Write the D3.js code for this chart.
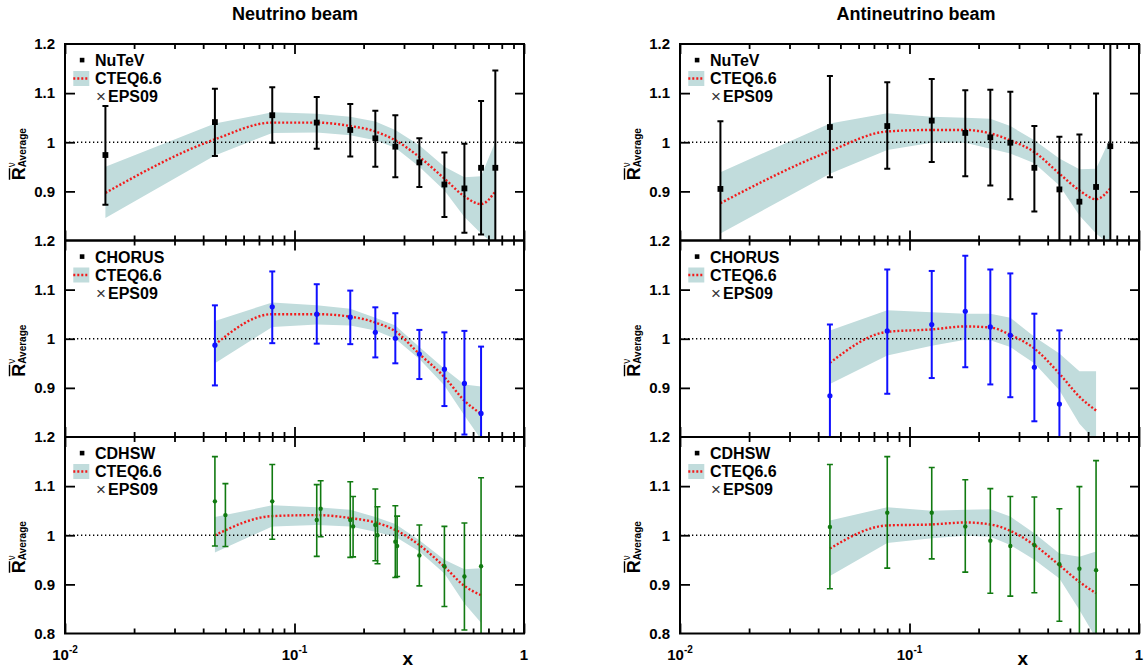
<!DOCTYPE html>
<html><head><meta charset="utf-8">
<script src="https://cdn.jsdelivr.net/npm/d3@7"></script>
<style>body{margin:0;background:#fff}</style>
</head><body><svg id="c" width="1146" height="668"></svg>
<script>
// ---------------- DATA ----------------
const columnTitles = ["Neutrino beam", "Antineutrino beam"];
const experiments = ["NuTeV", "CHORUS", "CDHSW"];
const xMajorTicks = [0.01, 0.1, 1];
const xMajorBase = ["10", "10", "1"];
const xMajorExp = ["-2", "-1", ""];
const xMinorTicks = [0.02,0.03,0.04,0.05,0.06,0.07,0.08,0.09,0.2,0.3,0.4,0.5,0.6,0.7,0.8,0.9];
const yTicks = [0.9, 1.0, 1.1];

// NuTeV binning
const xNuTeV = [0.015,0.045,0.080,0.125,0.175,0.225,0.275,0.35,0.45,0.55,0.65,0.75];

// Neutrino - NuTeV
const nuNuTeV_y  = [0.974,1.041,1.055,1.040,1.025,1.008,0.991,0.959,0.914,0.906,0.948,0.948];
const nuNuTeV_hi = [1.074,1.109,1.112,1.092,1.078,1.064,1.055,1.008,0.979,0.997,1.084,1.146];
const nuNuTeV_lo = [0.873,0.972,0.999,0.987,0.971,0.950,0.929,0.909,0.848,0.816,0.812,0.780];
const nuNuTeV_cteq   = [0.897,1.006,1.040,1.040,1.033,1.022,1.004,0.970,0.926,0.890,0.874,0.900];
const nuNuTeV_bandHi = [0.950,1.038,1.061,1.058,1.052,1.042,1.025,0.994,0.950,0.929,0.931,1.001];
const nuNuTeV_bandLo = [0.846,0.973,1.019,1.020,1.014,1.004,0.989,0.950,0.902,0.848,0.814,0.790];

// Neutrino - CHORUS
const xCHORUS = [0.045,0.080,0.125,0.175,0.225,0.275,0.35,0.45,0.55,0.65];
const nuCHORUS_y  = [0.987,1.065,1.050,1.044,1.013,1.001,0.969,0.938,0.909,0.848];
const nuCHORUS_hi = [1.068,1.137,1.111,1.098,1.064,1.052,1.018,1.013,1.016,0.984];
const nuCHORUS_lo = [0.905,0.991,0.990,0.989,0.962,0.950,0.918,0.863,0.805,0.780];
const xBand10 = [0.045,0.080,0.125,0.175,0.225,0.275,0.35,0.45,0.55,0.65];
const nuCHORUS_cteq   = [0.988,1.050,1.050,1.045,1.033,1.015,0.969,0.922,0.874,0.847];
const nuCHORUS_bandHi = [1.036,1.074,1.068,1.061,1.043,1.027,0.983,0.939,0.907,0.903];
const nuCHORUS_bandLo = [0.950,1.024,1.029,1.027,1.017,1.000,0.959,0.905,0.844,0.795];

// Neutrino - CDHSW
const xCDHSWnu = [0.045,0.050,0.080,0.125,0.130,0.175,0.180,0.225,0.230,0.275,0.280,0.35,0.45,0.55,0.65];
const nuCDHSW_y  = [1.069,1.041,1.069,1.031,1.054,1.031,1.018,1.021,1.000,0.987,0.978,0.959,0.937,0.916,0.937];
const nuCDHSW_hi = [1.160,1.105,1.144,1.103,1.111,1.109,1.079,1.094,1.058,1.060,1.039,1.021,1.018,1.025,1.117];
const nuCDHSW_lo = [0.978,0.977,0.992,0.957,0.997,0.955,0.956,0.948,0.942,0.914,0.916,0.897,0.855,0.807,0.780];
const nuCDHSW_cteq   = [1.000,1.039,1.041,1.035,1.026,1.011,0.980,0.936,0.897,0.878];
const nuCDHSW_bandHi = [1.037,1.061,1.057,1.052,1.037,1.023,0.990,0.950,0.931,0.933];
const nuCDHSW_bandLo = [0.965,1.018,1.021,1.018,1.007,0.997,0.967,0.922,0.861,0.822];

// Antineutrino - NuTeV
const anuNuTeV_y  = [0.905,1.031,1.033,1.044,1.019,1.010,0.999,0.948,0.904,0.879,0.909,0.992];
const anuNuTeV_hi = [1.043,1.135,1.122,1.129,1.106,1.107,1.103,1.033,1.011,1.016,1.099,1.250];
const anuNuTeV_lo = [0.780,0.929,0.946,0.960,0.931,0.912,0.884,0.859,0.780,0.780,0.780,0.780];
const anuNuTeV_cteq   = [0.876,0.982,1.022,1.025,1.025,1.018,1.004,0.980,0.936,0.902,0.884,0.906];
const anuNuTeV_bandHi = [0.939,1.038,1.059,1.052,1.050,1.048,1.033,1.004,0.967,0.945,0.946,1.008];
const anuNuTeV_bandLo = [0.814,0.936,0.984,0.999,0.999,0.987,0.977,0.957,0.912,0.851,0.814,0.790];

// Antineutrino - CHORUS
const xCHORUSanu = [0.045,0.080,0.125,0.175,0.225,0.275,0.35,0.45];
const anuCHORUS_y  = [0.884,1.016,1.029,1.056,1.024,1.007,0.942,0.867];
const anuCHORUS_hi = [1.029,1.141,1.138,1.169,1.141,1.133,1.051,1.017];
const anuCHORUS_lo = [0.780,0.888,0.920,0.942,0.907,0.881,0.832,0.780];
const anuCHORUS_cteq   = [0.951,1.014,1.019,1.025,1.023,1.008,0.980,0.929,0.882,0.854];
const anuCHORUS_bandHi = [1.017,1.058,1.054,1.051,1.051,1.043,1.004,0.970,0.934,0.934];
const anuCHORUS_bandLo = [0.908,0.966,0.986,0.998,0.997,0.983,0.950,0.895,0.827,0.790];

// Antineutrino - CDHSW
const xCDHSWanu = [0.045,0.080,0.125,0.175,0.225,0.275,0.35,0.45,0.55,0.65];
const anuCDHSW_y  = [1.017,1.046,1.046,1.018,0.989,0.978,0.980,0.941,0.932,0.929];
const anuCDHSW_hi = [1.144,1.160,1.138,1.113,1.095,1.079,1.078,1.054,1.099,1.152];
const anuCDHSW_lo = [0.891,0.933,0.952,0.925,0.882,0.876,0.883,0.825,0.780,0.780];
const anuCDHSW_cteq   = [0.973,1.020,1.022,1.026,1.022,1.009,0.980,0.939,0.905,0.882];
const anuCDHSW_bandHi = [1.030,1.057,1.050,1.052,1.053,1.038,1.004,0.963,0.956,0.967];
const anuCDHSW_bandLo = [0.917,0.984,0.994,0.999,0.997,0.980,0.950,0.912,0.848,0.790];

// ---------------- PANEL TABLE (built from arrays) ----------------
const panels = [
  {col:0,row:0,x:xNuTeV,y:nuNuTeV_y,hi:nuNuTeV_hi,lo:nuNuTeV_lo,bx:xNuTeV,c:nuNuTeV_cteq,bh:nuNuTeV_bandHi,bl:nuNuTeV_bandLo},
  {col:0,row:1,x:xCHORUS,y:nuCHORUS_y,hi:nuCHORUS_hi,lo:nuCHORUS_lo,bx:xBand10,c:nuCHORUS_cteq,bh:nuCHORUS_bandHi,bl:nuCHORUS_bandLo},
  {col:0,row:2,x:xCDHSWnu,y:nuCDHSW_y,hi:nuCDHSW_hi,lo:nuCDHSW_lo,bx:xBand10,c:nuCDHSW_cteq,bh:nuCDHSW_bandHi,bl:nuCDHSW_bandLo},
  {col:1,row:0,x:xNuTeV,y:anuNuTeV_y,hi:anuNuTeV_hi,lo:anuNuTeV_lo,bx:xNuTeV,c:anuNuTeV_cteq,bh:anuNuTeV_bandHi,bl:anuNuTeV_bandLo},
  {col:1,row:1,x:xCHORUSanu,y:anuCHORUS_y,hi:anuCHORUS_hi,lo:anuCHORUS_lo,bx:xBand10,c:anuCHORUS_cteq,bh:anuCHORUS_bandHi,bl:anuCHORUS_bandLo},
  {col:1,row:2,x:xCDHSWanu,y:anuCDHSW_y,hi:anuCDHSW_hi,lo:anuCDHSW_lo,bx:xCDHSWanu,c:anuCDHSW_cteq,bh:anuCDHSW_bandHi,bl:anuCDHSW_bandLo}
];

// ---------------- LAYOUT / STYLE ----------------
const FONT = "'Liberation Sans', Arial, Helvetica, sans-serif";
const colX0 = [65, 680], colW = 459;
const pTop = [44, 240.5, 437], pH = 196.5;
const bandColor = "#c1dcdc";
const redColor = "#f21b1b";
const markerColor = ["#000000", "#1010ff", "#117a11"];

const svg = d3.select("#c");
svg.append("rect").attr("width",1146).attr("height",668).attr("fill","#fff");
const defs = svg.append("defs");

// titles
columnTitles.forEach((t,i)=>{
  svg.append("text").attr("x", i===0?295:916).attr("y",20)
    .attr("text-anchor","middle").attr("font-family",FONT).attr("font-weight","bold")
    .attr("font-size",18).text(t);
});

panels.forEach((p,pi)=>{
  const x0 = colX0[p.col], top = pTop[p.row];
  const xs = d3.scaleLog().domain([0.01,1]).range([x0, x0+colW]);
  const ys = d3.scaleLinear().domain([0.8,1.2]).range([top+pH, top]);
  const g = svg.append("g");
  const cid = "clip"+pi;
  defs.append("clipPath").attr("id",cid).append("rect")
    .attr("x",x0).attr("y",top).attr("width",colW).attr("height",pH);
  const gc = g.append("g").attr("clip-path",`url(#${cid})`);

  // band
  const bandData = p.bx.map((xv,i)=>({x:xv,c:p.c[i],h:p.bh[i],l:p.bl[i]}));
  gc.append("path").datum(bandData)
    .attr("d", d3.area().x(d=>xs(d.x)).y0(d=>ys(d.l)).y1(d=>ys(d.h)))
    .attr("fill", bandColor);

  // unity dotted line
  gc.append("line").attr("x1",x0).attr("x2",x0+colW).attr("y1",ys(1)).attr("y2",ys(1))
    .attr("stroke","#000").attr("stroke-width",1.3).attr("stroke-dasharray","1.3,2.7");

  // central CTEQ line
  gc.append("path").datum(bandData)
    .attr("d", d3.line().x(d=>xs(d.x)).y(d=>ys(d.c)).curve(d3.curveMonotoneX))
    .attr("fill","none").attr("stroke",redColor).attr("stroke-width",2.4)
    .attr("stroke-dasharray","2,2");

  // data
  const col = markerColor[p.row];
  const pts = p.x.map((xv,i)=>({x:xv,y:p.y[i],hi:p.hi[i],lo:p.lo[i]}));
  const ew = p.row===2 ? 1.6 : 2;
  const eg = gc.append("g").attr("stroke",col).attr("stroke-width",ew);
  eg.selectAll("line.v").data(pts).join("line")
    .attr("x1",d=>xs(d.x)).attr("x2",d=>xs(d.x)).attr("y1",d=>ys(d.hi)).attr("y2",d=>ys(d.lo));
  eg.selectAll("line.t").data(pts).join("line")
    .attr("x1",d=>xs(d.x)-3).attr("x2",d=>xs(d.x)+3).attr("y1",d=>ys(d.hi)).attr("y2",d=>ys(d.hi));
  eg.selectAll("line.b").data(pts).join("line")
    .attr("x1",d=>xs(d.x)-3).attr("x2",d=>xs(d.x)+3).attr("y1",d=>ys(d.lo)).attr("y2",d=>ys(d.lo));
  if (p.row===0) {
    gc.selectAll("rect.m").data(pts).join("rect")
      .attr("x",d=>xs(d.x)-2.9).attr("y",d=>ys(d.y)-2.9).attr("width",5.8).attr("height",5.8).attr("fill",col);
  } else {
    gc.selectAll("circle.m").data(pts).join("circle")
      .attr("cx",d=>xs(d.x)).attr("cy",d=>ys(d.y)).attr("r", p.row===1?2.6:2.2).attr("fill",col);
  }

  // ticks
  const tickStyle = sel => { sel.select(".domain").remove(); sel.selectAll("line").attr("stroke","#000").attr("stroke-width",1.8); };
  g.append("g").attr("transform",`translate(0,${top+pH})`)
    .call(d3.axisTop(xs).tickValues(xMinorTicks).tickSize(5).tickFormat("")).call(tickStyle);
  g.append("g").attr("transform",`translate(0,${top+pH})`)
    .call(d3.axisTop(xs).tickValues(xMajorTicks).tickSize(10).tickFormat("")).call(tickStyle);
  g.append("g").attr("transform",`translate(0,${top})`)
    .call(d3.axisBottom(xs).tickValues(xMinorTicks).tickSize(5).tickFormat("")).call(tickStyle);
  g.append("g").attr("transform",`translate(0,${top})`)
    .call(d3.axisBottom(xs).tickValues(xMajorTicks).tickSize(10).tickFormat("")).call(tickStyle);
  g.append("g").attr("transform",`translate(${x0},0)`)
    .call(d3.axisRight(ys).tickValues(yTicks).tickSize(10).tickFormat("")).call(tickStyle);
  g.append("g").attr("transform",`translate(${x0+colW},0)`)
    .call(d3.axisLeft(ys).tickValues(yTicks).tickSize(9).tickFormat("")).call(tickStyle);

  // y tick labels
  const labVals = p.row===2 ? [0.8,0.9,1.0,1.1,1.2] : [0.9,1.0,1.1,1.2];
  const yl = g.append("g").attr("transform",`translate(${x0},0)`)
    .call(d3.axisLeft(ys).tickValues(labVals).tickSize(0).tickPadding(10)
      .tickFormat(d=> Math.abs(d-1)<1e-9 ? "1" : d3.format(".1f")(d)));
  yl.select(".domain").remove();
  yl.selectAll("text").attr("font-family",FONT).attr("font-weight","bold").attr("font-size",15).attr("fill","#000");

  // frame
  g.append("rect").attr("x",x0).attr("y",top).attr("width",colW).attr("height",pH)
    .attr("fill","none").attr("stroke","#000").attr("stroke-width",2);

  // legend
  const lg = g.append("g").attr("font-family",FONT).attr("font-weight","bold").attr("font-size",16);
  lg.append("rect").attr("x",x0+14.8).attr("y",top+13.8).attr("width",4.6).attr("height",4.6).attr("fill","#000");
  lg.append("text").attr("x",x0+30).attr("y",top+22).text(experiments[p.row]);
  lg.append("rect").attr("x",x0+8.3).attr("y",top+27).attr("width",16).attr("height",15).attr("fill",bandColor);
  lg.append("line").attr("x1",x0+8.3).attr("x2",x0+24.3).attr("y1",top+34.5).attr("y2",top+34.5)
    .attr("stroke",redColor).attr("stroke-width",2.4).attr("stroke-dasharray","2,2");
  lg.append("text").attr("x",x0+30).attr("y",top+40).text("CTEQ6.6");
  lg.append("text").attr("x",x0+31).attr("y",top+58).attr("font-weight","normal").attr("fill","#333").attr("font-size",17).text("×");
  lg.append("text").attr("x",x0+43).attr("y",top+58).text("EPS09");

  // y axis title
  const tx = x0 - 40, ty = top + pH/2 + 38;
  const yt = g.append("g").attr("transform",`translate(${tx},${ty}) rotate(-90)`).attr("font-family",FONT).attr("font-weight","bold");
  yt.append("text").attr("x",0).attr("y",0).attr("font-size",18).text("R");
  yt.append("line").attr("x1",0.5).attr("x2",12).attr("y1",-15.5).attr("y2",-15.5).attr("stroke","#000").attr("stroke-width",1.4);
  yt.append("text").attr("x",13).attr("y",-10).attr("font-size",10).attr("font-weight","normal").text("ν");
  yt.append("text").attr("x",13).attr("y",1).attr("font-size",10).text("Average");

  // x labels for bottom row
  if (p.row===2) {
    xMajorTicks.forEach((v,i)=>{
      const t = g.append("text").attr("x",xs(v)).attr("y",660).attr("text-anchor","middle")
        .attr("font-family",FONT).attr("font-weight","bold").attr("font-size",15);
      t.append("tspan").text(xMajorBase[i]);
      if (xMajorExp[i]) t.append("tspan").attr("dy",-7).attr("font-size",10).text(xMajorExp[i]);
    });
    g.append("text").attr("x", x0 + colW*0.747).attr("y",665).attr("text-anchor","middle")
      .attr("font-family",FONT).attr("font-weight","bold").attr("font-size",19).text("x");
  }
});
</script></body></html>
